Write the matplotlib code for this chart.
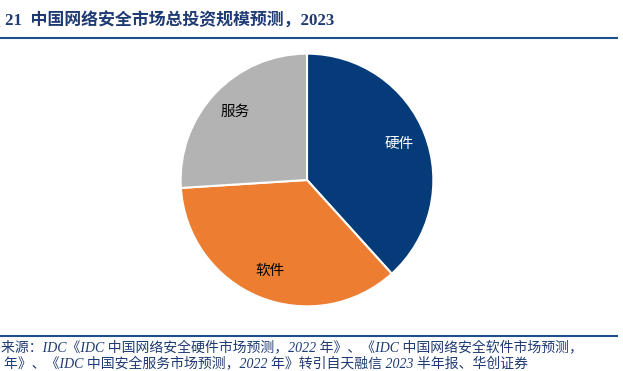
import matplotlib
matplotlib.use("Agg")
import matplotlib.pyplot as plt

# data
labels = ["硬件", "软件", "服务"]
shares = [38.3, 35.7, 26.0]
colors = ["#063b7a", "#ed7d31", "#b3b3b3"]
label_colors = ["white", "black", "black"]

title = "21  中国网络安全市场总投资规模预测，2023"
source1 = "来源：IDC《IDC 中国网络安全硬件市场预测，2022 年》、《IDC 中国网络安全软件市场预测，"
source2 = "年》、《IDC 中国安全服务市场预测，2022 年》转引自天融信 2023 半年报、华创证券"

fonts = ["Liberation Serif", "Noto Sans CJK SC", "DejaVu Sans"]
plt.rcParams["font.family"] = fonts
navy = "#1f3b73"

fig = plt.figure(figsize=(6.23, 3.71), dpi=100)

# pie axes: square box in pixels
W, H = 623, 371
cx, cy, r = 307, 180, 127
ax = fig.add_axes([(cx - r) / W, (H - cy - r) / H, 2 * r / W, 2 * r / H])
wedges, texts = ax.pie(shares, labels=labels, colors=colors, startangle=90,
                       counterclock=False, labeldistance=0.78,
                       wedgeprops=dict(edgecolor="white", linewidth=1.5),
                       textprops=dict(fontsize=10.5, ha="center", va="center"))
for t, c in zip(texts, label_colors):
    t.set_color(c)
    t.set_horizontalalignment("center")
ax.set_xlim(-1.005, 1.005)
ax.set_ylim(-1.005, 1.005)
ax.axis("off")

# title
fig.text(0.002, 1 - 26 / H, "图表", ha="right", va="baseline", fontsize=12.2,
         fontweight="bold", color=navy)
fig.text(5 / W, 1 - 26 / H, title, ha="left", va="baseline", fontsize=12.2,
         fontweight="bold", color=navy)
fig.add_artist(plt.Line2D([0, 617 / W], [1 - 37.5 / H] * 2, color="#1f4e8c",
                          linewidth=1.5, transform=fig.transFigure))

# source
fig.add_artist(plt.Line2D([0, 617 / W], [1 - 335.5 / H] * 2, color="#1f4e8c",
                          linewidth=1.5, transform=fig.transFigure))
fs = 10
fig.text(0.001, 1 - 351 / H, "资料", ha="right", va="baseline", fontsize=fs,
         style="italic", color=navy)
fig.text(0.001, 1 - 351 / H, source1, ha="left", va="baseline", fontsize=fs,
         style="italic", color=navy)
fig.text(4 / W, 1 - 367 / H, "2022 ", ha="right", va="baseline", fontsize=fs,
         style="italic", color=navy)
fig.text(4 / W, 1 - 367 / H, source2, ha="left", va="baseline", fontsize=fs,
         style="italic", color=navy)

fig.savefig("out.png", dpi=100)
